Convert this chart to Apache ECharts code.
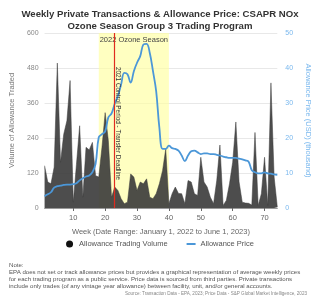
<!DOCTYPE html>
<html>
<head>
<meta charset="utf-8">
<script src="https://cdn.jsdelivr.net/npm/echarts@6/dist/echarts.min.js"></script>
<style>
  html, body { margin: 0; padding: 0; background: #fff; }
  #chart { width: 320px; height: 300px; }
</style>
</head>
<body>
<div id="chart"></div>
<script>
var weeks = [];
for (var i = 1; i <= 74; i++) weeks.push(String(i));

// weekly allowance trading volume
var volume = [
  145, 89, 83, 140, 497, 157, 253, 299, 437, 20,
  150, 282, 37, 208, 199, 225, 111, 106, 208, 327,
  231, 37, 72, 60, 32, 15, 20, 117, 106, 60,
  89, 83, 100, 37, 32, 49, 83, 128, 202, 15,
  49, 72, 50, 49, 15, 94, 89, 49, 43, 174,
  89, 72, 37, 15, 94, 216, 9, 26, 83, 157,
  295, 90, 20, 17, 16, 10, 259, 9, 49, 174,
  9, 429, 106, 3
];

// allowance price, thousand USD
var price = [
  3.4, 3.9, 4.5, 5.8, 6.25, 6.4, 6.6, 6.7, 6.7, 6.8,
  7.1, 7.9, 8.5, 9.0, 9.3, 10.2, 12.6, 20.2, 21.1, 21.9,
  25.9, 27.0, 29.8, 32, 35.3, 38.6, 38.2, 35.8, 39.1, 41.5,
  43.4, 46.7, 46.9, 44.3, 39.1, 33.4, 23, 16.9, 16.9, 17.8,
  17.1, 16.9, 16.4, 15, 13.4, 15, 16.2, 16.4, 15.9, 15.4,
  15.6, 15.6, 15.4, 15.4, 15.2, 15, 14.7, 14.5, 14.3, 14.3,
  14.3, 14.1, 13.9, 13.6, 13.2, 10.8, 10.2, 9.9, 9.9, 10.2,
  9.9, 9.8, 9.6, 9.5
];

var ozoneSeason = ['18', '40'];
var transferDeadline = '23';

var noteText = [
  'Note:',
  'EPA does not set or track allowance prices but provides a graphical representation of average weekly prices',
  'for each trading program as a public service. Price data is sourced from third parties. Private transactions',
  'include only trades (of any vintage year allowance) between facility, unit, and/or general accounts.'
].join('\n');
var sourceText = 'Source: Transaction Data - EPA, 2023; Price Data - S&P Global Market Intelligence, 2023';

var myChart = echarts.init(document.getElementById('chart'), null, { renderer: 'canvas' });

var font = 'Liberation Sans, Arial, sans-serif';
var labelEvery10 = function (idx, val) { return Number(val) % 10 === 0; };

var option = {
  animation: false,
  textStyle: { fontFamily: font },
  title: [
    {
      text: 'Weekly Private Transactions & Allowance Price: CSAPR NOx\nOzone Season Group 3 Trading Program',
      left: 'center',
      top: 3,
      textStyle: { fontSize: 9.6, fontWeight: 'bold', color: '#333', lineHeight: 12, fontFamily: font }
    },
    {
      text: noteText,
      left: 4,
      top: 257,
      textStyle: { fontSize: 6.1, fontWeight: 'normal', color: '#555', lineHeight: 7, fontFamily: font }
    },
    {
      text: sourceText,
      right: 8,
      top: 286,
      textStyle: { fontSize: 4.6, fontWeight: 'normal', color: '#888', fontFamily: font }
    }
  ],
  legend: {
    bottom: 47,
    left: 'center',
    itemWidth: 9,
    itemHeight: 7,
    itemGap: 18,
    textStyle: { fontSize: 7.5, color: '#555' },
    data: [
      { name: 'Allowance Trading Volume', icon: 'circle' },
      { name: 'Allowance Price', itemStyle: { opacity: 0 } }
    ]
  },
  grid: { left: 37, right: 32, top: 33, bottom: 92 },
  xAxis: {
    type: 'category',
    data: weeks,
    boundaryGap: false,
    name: 'Week (Date Range: January 1, 2022 to June 1, 2023)',
    nameLocation: 'middle',
    nameGap: 20,
    nameTextStyle: { fontSize: 7.5, color: '#666' },
    axisLine: { lineStyle: { color: '#999' } },
    axisTick: { interval: labelEvery10, length: 3, lineStyle: { color: '#666' } },
    axisLabel: { interval: labelEvery10, fontSize: 7.5, color: '#666', margin: 6 }
  },
  yAxis: [
    {
      type: 'value',
      min: 0,
      max: 600,
      interval: 120,
      name: 'Volume of Allowance Traded',
      nameLocation: 'middle',
      nameGap: 26,
      nameTextStyle: { fontSize: 7.5, color: '#777' },
      axisLine: { show: false },
      axisTick: { show: false },
      axisLabel: { fontSize: 7, color: '#888', margin: 6 },
      splitLine: { lineStyle: { color: '#e8e8e8' } }
    },
    {
      type: 'value',
      min: 0,
      max: 50,
      interval: 10,
      position: 'right',
      name: 'Allowance Price (USD) (thousand)',
      nameLocation: 'middle',
      nameRotate: -90,
      nameGap: 22,
      nameTextStyle: { fontSize: 7.5, color: '#7ab8ee' },
      axisLine: { show: false },
      axisTick: { show: false },
      axisLabel: { fontSize: 7, color: '#7ab8ee', margin: 8 },
      splitLine: { show: false }
    }
  ],
  series: [
    {
      name: 'Allowance Trading Volume',
      type: 'line',
      data: volume,
      yAxisIndex: 0,
      symbol: 'none',
      itemStyle: { color: '#111' },
      lineStyle: { width: 0.5, color: '#3a3a3a' },
      areaStyle: { color: '#3a3a3a', opacity: 0.9 },
      markArea: {
        silent: true,
        itemStyle: { color: 'rgba(255,255,160,0.65)' },
        label: { show: true, position: 'insideTop', fontSize: 7.5, color: '#444', distance: 3 },
        data: [[{ name: '2022 Ozone Season', xAxis: ozoneSeason[0] }, { xAxis: ozoneSeason[1] }]]
      },
      markLine: {
        silent: true,
        symbol: 'none',
        lineStyle: { color: '#e02b1f', width: 1.2, type: 'solid' },
        label: {
          show: true,
          position: 'insideMiddleTop',
          formatter: '2021 Control Period - Transfer Deadline',
          fontSize: 6.4,
          color: '#333',
          distance: 3,
          offset: [6, 0]
        },
        data: [[{ xAxis: transferDeadline, yAxis: 600 }, { xAxis: transferDeadline, yAxis: 0 }]]
      }
    },
    {
      name: 'Allowance Price',
      type: 'line',
      data: price,
      yAxisIndex: 1,
      symbol: 'none',
      smooth: 0.4,
      itemStyle: { color: '#4b97d8' },
      lineStyle: { width: 1.8, color: '#4b97d8' },
      z: 3
    }
  ]
};

myChart.setOption(option);
window.addEventListener('resize', myChart.resize);
</script>
</body>
</html>
